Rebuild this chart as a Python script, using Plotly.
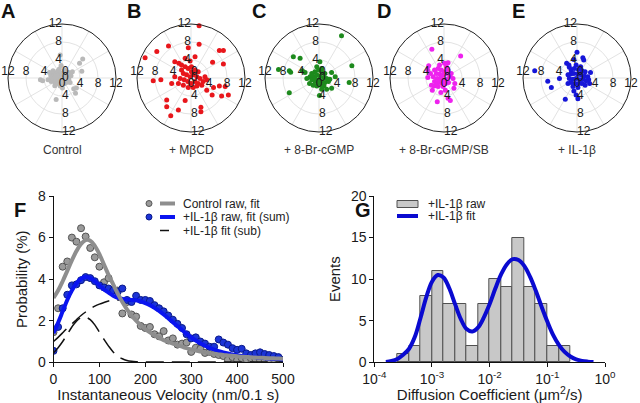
import numpy as np
import plotly.graph_objects as go

W, H = 640, 403
FONT = "Arial, Liberation Sans, sans-serif"

# ---------------- Polar panels (x/y displacement, units) ----------------
A_x = [-0.4, 4.6, 3.9, 4.4, 2.6, 3.2, 3.0, -1.3, -4.8, -4.3, -3.1, -1.6, -0.2,
       -2.5, -2.0, -1.5, -1.0, -0.5, 0.2, 0.8, 1.2, -2.2, -1.8, -1.2, -0.8, -0.3, 0.3,
       0.9, 1.5, -1.5, -0.9, -0.2, 0.5, 1.0, -2.8, -2.0, -0.6, 0.6, 1.5, 2.0, -1.0, 0.0,
       -0.4, -1.3, 0.4, 1.8, -2.4, 0.1, 2.3]
A_y = [5.1, 4.2, 3.3, 1.5, -2.4, -2.2, -3.4, -4.8, -0.4, -0.6, -0.4, -1.7, 2.8,
       0.5, 0.8, 1.0, 1.5, 1.2, 1.0, 0.6, 0.2, -0.2, 0.0, -0.5, 0.2, -0.3, -0.2,
       -0.6, -0.3, -1.0, -1.2, -1.0, -1.3, -1.0, 1.2, 1.6, 2.0, 1.8, 1.2, 0.5, 0.6, 0.4,
       -1.8, 0.3, 0.7, -1.0, -0.8, -2.2, 1.4]

B_x = [1.8, -5.0, -7.6, -10.2, -0.6, 1.8, 6.3, 7.2, 4.8, 7.2, -3.6, -2.7, -1.3, -0.2, 0.9,
       -8.4, -6.7, -4.3, 5.0, 3.5, 4.7, 6.8, 8.3, 6.3, 7.6, -5.4, -5.4, -4.5, -2.8, -1.3, 2.2, 2.2,
       -2.1, -1.3, -0.6, 0.1, 0.9, 1.6, -1.7, -1.0, -0.2, 0.5, 1.3, 2.0, -2.4, -1.5, -0.7, 0.0,
       0.9, 1.6, 2.7, 3.5, -1.7, -0.6, 0.5, 1.3, 2.4, -2.8, -3.6, -2.1, 0.1, 3.1]
B_y = [11.6, 7.1, 5.9, 4.5, 6.7, 7.5, 6.1, 6.1, 3.5, 3.1, 3.6, 3.3, 4.4, 3.8, 4.7,
       -0.6, -0.4, -1.2, -2.1, -2.7, -3.8, -4.0, -3.8, -1.8, -1.9, -4.9, -6.4, -8.4, -7.1, -5.0, -6.5, -7.5,
       1.8, 2.5, 2.1, 2.5, 1.8, 1.4, 1.0, 0.7, 0.3, 0.7, 0.3, -0.1, -0.1, -0.4, -0.8, -1.2,
       -0.8, -1.2, -0.8, -0.4, -1.6, -2.1, -2.1, -1.8, -1.6, -1.2, 0.3, 2.9, 1.4, 0.3]

C_x = [5.0, -5.7, -4.2, -9.0, -6.6, -6.3, -3.7, -3.1, 0.2, 7.3, 6.7, -6.6, 0.1, 2.8, 1.7, 0.6,
       3.6, 2.8, -1.6, -0.9, -0.1, 0.6, 1.3, -2.0, -1.3, -0.5, 0.2, 1.0, 1.7, -1.6, -0.9, -0.1,
       0.6, 1.3, -1.3, -0.5, 0.4, 1.1, -2.1, 2.1, -2.7, -0.5, 0.6, -0.9, -0.1, 2.4]
C_y = [9.4, 4.7, 4.4, 1.9, 1.6, 1.3, 1.6, 1.2, 3.6, 2.7, -1.0, -3.3, -3.9, -2.3, -2.5, -2.5,
       0.3, 1.2, 1.0, 1.4, 1.8, 1.4, 1.0, 0.3, 0.4, 0.7, 0.4, 0.1, -0.1, -0.4, -0.8, -0.4,
       -0.8, -1.0, -1.6, -1.8, -1.6, -1.8, -1.2, -0.8, -0.1, 2.5, 2.1, -0.1, -1.2, -0.3]

D_x = [-2.7, 3.7, -3.4, -3.6, -3.6, -2.8, -2.6, -2.2, -1.5, -0.7, 0.9, 1.4, 2.2, 2.4, 2.0,
       0.3, 0.1, 0.9, 0.5, -2.1, -1.3, -0.6, 0.1, 0.9, -1.7, -1.0, -0.2, 0.5, 1.3, -2.4,
       -1.5, -0.7, 0.0, 0.7, -2.1, -1.2, -0.4, 0.3, 1.0, -1.3, -0.2, -3.0, -1.0, 1.6, -0.6, -1.7]
D_y = [6.4, 4.9, 2.7, 1.8, 0.1, -1.6, -2.7, -1.8, -5.3, -3.2, -4.5, -5.0, -2.3, -1.2, -0.1,
       -2.7, 3.3, 3.4, 2.5, 1.8, 2.1, 1.8, 1.4, 1.8, 1.0, 0.9, 0.7, 1.0, 0.4, 0.3,
       -0.1, -0.3, -0.4, -0.3, -0.8, -1.0, -1.2, -1.3, -1.0, -1.9, -1.9, 1.0, 2.9, 1.0, 0.3, -1.6]

E_x = [0.0, 1.3, 1.5, -0.7, -2.3, -1.8, -1.7, -9.4, -6.5, -5.7, -3.9, -2.6, -0.7, -0.2, 0.2,
       3.0, 2.8, 2.6, -1.3, -0.6, 0.3, 1.1, 1.8, -1.4, -0.7, 0.2, 0.9, 1.7, -1.7, -0.9, -0.2,
       0.6, 1.3, 2.0, -1.3, -0.4, 0.3, 1.1, 1.8, -0.9, 0.2, -2.0, 2.4, -0.2, 0.8, -2.0]
E_y = [5.7, 4.5, 4.0, 4.1, 3.3, 2.9, 2.4, 1.6, -0.7, -2.1, -0.1, -4.7, -2.9, -3.8, -4.6,
       1.2, -1.2, -0.4, 1.8, 2.1, 1.9, 1.6, 1.4, 0.9, 1.0, 0.9, 0.7, 0.4, -0.1, -0.3, -0.1,
       -0.4, -0.3, -0.6, -1.0, -1.2, -1.3, -1.2, -1.6, -1.9, -2.1, 0.7, 0.3, 2.9, 2.5, -1.2]

polar_names = ["Control", "+ M\u03b2CD", "+ 8-Br-cGMP", "+ 8-Br-cGMP/SB", "+ IL-1\u03b2"]
polar_letters = ["A", "B", "C", "D", "E"]
polar_colors = ["#b9b9b9", "#e8161b", "#1d8a1d", "#ee22ee", "#1616d8"]
polar_data = [(A_x, A_y), (B_x, B_y), (C_x, C_y), (D_x, D_y), (E_x, E_y)]
radial_ticks = [0, 4, 8, 12]

# ---------------- Panel F data ----------------
vel = list(range(0, 510, 10))
ctrl_raw = [1.45, 2.6, 4.6, 4.85, 6.0, 5.8, 6.45, 6.05, 5.5, 5.05, 4.6, 3.85, 4.05, 3.5, 3.45,
            2.35, 2.9, 2.3, 2.2, 1.75, 1.65, 1.7, 1.35, 1.25, 1.5, 1.05, 1.15, 0.85, 0.9, 0.95,
            0.5, 0.7, 0.65, 0.45, 0.5, 0.4, 0.35, 0.3, 0.12, 0.25, 0.1, 0.2, 0.15, 0.2, 0.15,
            0.1, 0.12, 0.1, 0.15, 0.1, 0.1]
il1_raw = [0.55, 1.7, 2.6, 3.25, 3.7, 3.75, 3.95, 4.1, 4.05, 3.9, 3.7, 3.6, 3.55, 3.45, 3.4,
           3.55, 3.0, 2.9, 3.2, 3.0, 3.0, 2.95, 2.75, 2.6, 2.45, 2.25, 2.05, 1.85, 1.65, 1.35,
           1.15, 1.2, 1.0, 0.9, 0.75, 0.75, 1.1, 0.95, 0.85, 0.68, 0.6, 0.65, 0.43, 0.35, 0.43,
           0.48, 0.4, 0.35, 0.3, 0.25, 0.12]
ctrl_fit = [3.1, 3.45, 3.9, 4.4, 4.9, 5.35, 5.7, 5.88, 5.85, 5.6, 5.2, 4.7, 4.2, 3.75, 3.3,
            2.9, 2.55, 2.25, 2.0, 1.78, 1.6, 1.44, 1.3, 1.18, 1.07, 0.98, 0.9, 0.82, 0.75, 0.68,
            0.62, 0.57, 0.52, 0.48, 0.44, 0.41, 0.38, 0.35, 0.33, 0.31, 0.29, 0.27, 0.26, 0.24,
            0.23, 0.22, 0.21, 0.2, 0.19, 0.18, 0.17]
il1_fit = [1.4, 1.9, 2.45, 3.0, 3.45, 3.8, 4.02, 4.1, 4.05, 3.9, 3.7, 3.5, 3.35, 3.2, 3.1,
           3.05, 3.02, 3.0, 2.98, 2.93, 2.85, 2.75, 2.62, 2.47, 2.3, 2.12, 1.93, 1.74, 1.55, 1.37,
           1.2, 1.05, 0.92, 0.8, 0.7, 0.61, 0.53, 0.47, 0.42, 0.38, 0.34, 0.31, 0.28, 0.26, 0.24,
           0.22, 0.2, 0.18, 0.17, 0.16, 0.15]
il1_sub1 = [0.45, 0.7, 1.0, 1.35, 1.7, 1.98, 2.15, 2.17, 2.05, 1.8, 1.45, 1.1, 0.78, 0.5, 0.3,
            0.17, 0.09, 0.05, 0.03, 0.02, 0.02, 0.02, 0.02, 0.02, 0.02, 0.02, 0.02, 0.02, 0.02,
            0.02, 0.02, 0.02, 0.02, 0.02, 0.02, 0.02, 0.02, 0.02, 0.02, 0.02, 0.02, 0.02, 0.02,
            0.02, 0.02, 0.02, 0.02, 0.02, 0.02, 0.02, 0.02]
il1_sub2 = [1.0, 1.2, 1.42, 1.65, 1.85, 2.05, 2.25, 2.42, 2.57, 2.7, 2.8, 2.88, 2.95, 2.99, 3.0,
            3.0, 2.98, 2.95, 2.93, 2.9, 2.84, 2.74, 2.61, 2.46, 2.29, 2.11, 1.92, 1.73, 1.54, 1.36,
            1.19, 1.04, 0.91, 0.79, 0.69, 0.6, 0.52, 0.46, 0.41, 0.37, 0.33, 0.3, 0.27, 0.25, 0.23,
            0.21, 0.19, 0.17, 0.16, 0.15, 0.14]

# ---------------- Panel G data ----------------
bin_log_centers = [-3.5, -3.3, -3.1, -2.9, -2.7, -2.5, -2.3, -2.1, -1.9, -1.7, -1.5, -1.3, -1.1, -0.9, -0.7]
bin_counts = [1, 2, 8, 11, 7, 7, 2, 7, 10, 9, 15, 9, 7, 2, 2]
fit_log_d = [-3.8, -3.7, -3.6, -3.5, -3.4, -3.3, -3.2, -3.1, -3.0, -2.9, -2.8, -2.7, -2.6, -2.5,
             -2.4, -2.3, -2.2, -2.1, -2.0, -1.9, -1.8, -1.7, -1.6, -1.5, -1.4, -1.3, -1.2, -1.1,
             -1.0, -0.9, -0.8, -0.7, -0.6, -0.5, -0.4, -0.3, -0.2]
fit_events = [0.05, 0.15, 0.4, 0.9, 1.6, 3.0, 5.3, 7.8, 9.7, 10.5, 10.2, 8.9, 7.0, 5.2,
              4.0, 3.7, 4.2, 5.4, 7.0, 8.9, 10.6, 11.8, 12.4, 12.3, 11.6, 10.3, 8.6, 6.7,
              4.9, 3.3, 2.1, 1.25, 0.7, 0.35, 0.17, 0.08, 0.03]
g_xtick_vals = [-4, -3, -2, -1, 0]
g_xtick_text = ["10<sup>-4</sup>", "10<sup>-3</sup>", "10<sup>-2</sup>", "10<sup>-1</sup>", "10<sup>0</sup>"]


def px(x):
    return x / W


def py(y):
    return 1 - y / H


fig = go.Figure()
layout = dict(width=W, height=H, autosize=False, margin=dict(l=0, r=0, t=0, b=0, pad=0),
              paper_bgcolor="white", plot_bgcolor="white", showlegend=False,
              font=dict(family=FONT, color="#1a1a1a"))

annotations = []
shapes = []

# ---------------- Polar panels ----------------
centers = [62, 191, 319, 444, 577]
cy, R = 78, 54
for i, (name, col, (xs, ys)) in enumerate(zip(polar_names, polar_colors, polar_data)):
    key = "polar" if i == 0 else f"polar{i + 1}"
    cx = centers[i]
    layout[key] = dict(
        domain=dict(x=[px(cx - R), px(cx + R)], y=[py(cy + R), py(cy - R)]),
        bgcolor="white",
        angularaxis=dict(showline=True, linecolor="#222", linewidth=1, gridcolor="#e3e3e3",
                         dtick=30, showticklabels=False, ticks=""),
        radialaxis=dict(range=[0, 12], tickvals=[4, 8, 12], showticklabels=False, ticks="",
                        showline=False, gridcolor="#e3e3e3"),
    )
    xa, ya = np.array(xs), np.array(ys)
    r = np.hypot(xa, ya)
    th = np.degrees(np.arctan2(ya, xa))
    fig.add_trace(go.Scatterpolar(r=r, theta=th, mode="markers", subplot=key,
                                  marker=dict(size=5, color=col), hoverinfo="skip"))
    tf = dict(size=12, color="#1a1a1a", family=FONT)
    # radial tick labels in four directions
    fig.add_trace(go.Scatterpolar(r=radial_ticks, theta=[90] * 4, mode="text", subplot=key,
                                  text=[str(v) for v in radial_ticks], cliponaxis=False,
                                  textposition=["top right", "middle left", "middle left", "middle left"],
                                  textfont=tf, hoverinfo="skip"))
    fig.add_trace(go.Scatterpolar(r=radial_ticks[1:], theta=[180] * 3, mode="text", subplot=key,
                                  text=[str(v) for v in radial_ticks[1:]], cliponaxis=False,
                                  textposition="top center", textfont=tf, hoverinfo="skip"))
    fig.add_trace(go.Scatterpolar(r=radial_ticks, theta=[0] * 4, mode="text", subplot=key,
                                  text=[str(v) for v in radial_ticks], cliponaxis=False,
                                  textposition=["middle right", "bottom center", "bottom center", "bottom center"],
                                  textfont=tf, hoverinfo="skip"))
    fig.add_trace(go.Scatterpolar(r=radial_ticks, theta=[270] * 4, mode="text", subplot=key,
                                  text=[str(v) for v in radial_ticks], cliponaxis=False,
                                  textposition=["bottom center", "middle right", "middle right", "middle right"],
                                  textfont=tf, hoverinfo="skip"))
    annotations.append(dict(text=name, x=px(cx), y=py(150), xref="paper", yref="paper",
                            xanchor="center", yanchor="middle",
                            showarrow=False, font=dict(size=12, color="#333")))

letter_pos = [(8, 11), (134, 11), (259, 11), (384, 11), (518, 11), (20, 210), (363, 210)]
for L, (lx, ly) in zip(polar_letters + ["F", "G"], letter_pos):
    annotations.append(dict(text=f"<b>{L}</b>", x=px(lx), y=py(ly), xref="paper", yref="paper",
                            xanchor="center", yanchor="middle",
                            showarrow=False, font=dict(size=20, color="#111")))

# ---------------- Panel F ----------------
fig.add_trace(go.Scatter(x=vel, y=ctrl_raw, mode="markers", xaxis="x", yaxis="y",
                         marker=dict(size=7, color="#9a9a9a", line=dict(color="#555", width=1))))
fig.add_trace(go.Scatter(x=vel, y=il1_raw, mode="markers", xaxis="x", yaxis="y",
                         marker=dict(size=7, color="#1c34d6", line=dict(color="#0a1a8a", width=1))))
fig.add_trace(go.Scatter(x=vel, y=il1_sub1, mode="lines", xaxis="x", yaxis="y", line_shape="spline",
                         line=dict(color="#111", width=1.5, dash="18px,8px")))
fig.add_trace(go.Scatter(x=vel, y=il1_sub2, mode="lines", xaxis="x", yaxis="y", line_shape="spline",
                         line=dict(color="#111", width=1.5, dash="18px,8px")))
fig.add_trace(go.Scatter(x=vel, y=il1_fit, mode="lines", xaxis="x", yaxis="y", line_shape="spline",
                         line=dict(color="#0a14f0", width=4)))
fig.add_trace(go.Scatter(x=vel, y=ctrl_fit, mode="lines", xaxis="x", yaxis="y", line_shape="spline",
                         line=dict(color="#8e8e8e", width=4)))

axis_common = dict(showline=True, linecolor="#111", linewidth=1, ticks="outside", ticklen=4,
                   tickcolor="#111", showgrid=False, zeroline=False, automargin=False,
                   tickfont=dict(size=14, family=FONT, color="#1a1a1a"))
layout["xaxis"] = dict(domain=[px(53.5), px(283)], range=[0, 500], tickvals=[0, 100, 200, 300, 400, 500],
                       anchor="y", title=dict(text="Instantaneous Velocity (nm/0.1 s)", standoff=4,
                                              font=dict(size=15)), **axis_common)
layout["yaxis"] = dict(domain=[py(362.3), py(196)], range=[0, 8], tickvals=[0, 2, 4, 6, 8],
                       anchor="x", title=dict(text="Probability (%)", standoff=6, font=dict(size=15)),
                       **axis_common)

# Legend F (manual)
leg_rows = [(203.5, "Control raw, fit", "#9a9a9a", "#555", "#8e8e8e", 4, None),
            (217, "+IL-1\u03b2 raw, fit (sum)", "#1c34d6", "#0a1a8a", "#0a14f0", 4, None),
            (230.5, "+IL-1\u03b2 fit (sub)", None, None, "#111", 1.5, "dash")]
for yy, txt, mcol, mline, lcol, lw, dash in leg_rows:
    if mcol:
        shapes.append(dict(type="circle", xref="paper", yref="paper",
                           x0=px(146), x1=px(152), y0=py(yy + 3), y1=py(yy - 3),
                           fillcolor=mcol, line=dict(color=mline, width=1)))
    shapes.append(dict(type="line", xref="paper", yref="paper", x0=px(160), x1=px(175),
                       y0=py(yy), y1=py(yy), line=dict(color=lcol, width=lw, dash=dash)))
    annotations.append(dict(text=txt, x=px(181), y=py(yy), xref="paper", yref="paper",
                            xanchor="left", yanchor="middle", showarrow=False,
                            font=dict(size=12, color="#222")))

# ---------------- Panel G ----------------
fig.add_trace(go.Bar(x=bin_log_centers, y=bin_counts, width=0.2, xaxis="x2", yaxis="y2",
                     marker=dict(color="#c8c8c8", line=dict(color="#505050", width=1))))
fig.add_trace(go.Scatter(x=fit_log_d, y=fit_events, mode="lines", xaxis="x2", yaxis="y2",
                         line_shape="spline", line=dict(color="#0a0ad0", width=4)))
layout["xaxis2"] = dict(domain=[px(374.3), px(605)], range=[-4, 0], tickvals=g_xtick_vals,
                        ticktext=g_xtick_text, anchor="y2",
                        title=dict(text="Diffusion Coefficient (\u03bcm<sup>2</sup>/s)", standoff=4,
                                   font=dict(size=15)), **axis_common)
layout["yaxis2"] = dict(domain=[py(362.3), py(196)], range=[0, 20], tickvals=[0, 5, 10, 15, 20],
                        anchor="x2", title=dict(text="Events", standoff=6, font=dict(size=15)),
                        **axis_common)
layout["bargap"] = 0

shapes.append(dict(type="rect", xref="paper", yref="paper", x0=px(397), x1=px(418),
                   y0=py(207.5), y1=py(200.5), fillcolor="#c8c8c8", line=dict(color="#505050", width=1)))
annotations.append(dict(text="+IL-1\u03b2 raw", x=px(426), y=py(204), xref="paper", yref="paper",
                        xanchor="left", yanchor="middle", showarrow=False,
                        font=dict(size=12, color="#222")))
shapes.append(dict(type="line", xref="paper", yref="paper", x0=px(397), x1=px(418),
                   y0=py(216), y1=py(216), line=dict(color="#0a0ad0", width=4)))
annotations.append(dict(text="+IL-1\u03b2 fit", x=px(426), y=py(216), xref="paper", yref="paper",
                        xanchor="left", yanchor="middle", showarrow=False,
                        font=dict(size=12, color="#222")))

layout["annotations"] = annotations
layout["shapes"] = shapes
fig.update_layout(**layout)
fig.write_html("out.html", config={"displayModeBar": False},
               post_script="document.body.style.margin='0';")
